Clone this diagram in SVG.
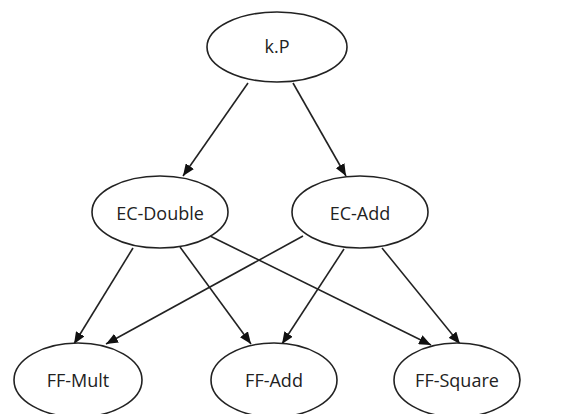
<svg xmlns="http://www.w3.org/2000/svg" width="565" height="414" viewBox="0 0 565 414">
<style>
.n ellipse{fill:#fff;stroke:#222;stroke-width:1.6}
.n text{font-family:"Open Sans","DejaVu Sans",sans-serif;font-size:18px;fill:#222;text-anchor:middle}
.e line{stroke:#222;stroke-width:1.6;marker-end:url(#ah)}
</style>
<defs>
<marker id="ah" viewBox="0 0 12 10" refX="12" refY="5" markerWidth="12" markerHeight="10" markerUnits="userSpaceOnUse" orient="auto"><path d="M0,0 L12,5 L0,10 z" fill="#111"/></marker>
</defs>
<rect width="565" height="414" fill="#fff"/>
<g id="edges" class="e">
<line x1="248" y1="83" x2="183" y2="176"/>
<line x1="293" y1="83" x2="346" y2="176"/>
<line x1="133" y1="248" x2="74" y2="344"/>
<line x1="180" y1="247" x2="251" y2="344"/>
<line x1="210" y1="236" x2="431" y2="345"/>
<line x1="303" y1="236" x2="106" y2="344"/>
<line x1="344" y1="249" x2="282" y2="344"/>
<line x1="382" y1="248" x2="460" y2="344"/>
</g>
<g id="kP" class="n"><ellipse cx="277" cy="47" rx="70" ry="35"/><text x="277" y="53">k.P</text></g>
<g id="ECDouble" class="n"><ellipse cx="160" cy="212" rx="68" ry="36"/><text x="160" y="220">EC-Double</text></g>
<g id="ECAdd" class="n"><ellipse cx="360" cy="212" rx="68" ry="36"/><text x="360" y="220">EC-Add</text></g>
<g id="FFMult" class="n"><ellipse cx="78" cy="380" rx="64" ry="37"/><text x="78" y="387">FF-Mult</text></g>
<g id="FFAdd" class="n"><ellipse cx="274" cy="380" rx="63" ry="37"/><text x="274" y="387">FF-Add</text></g>
<g id="FFSquare" class="n"><ellipse cx="457" cy="380" rx="63" ry="37"/><text x="457" y="387">FF-Square</text></g>
</svg>
